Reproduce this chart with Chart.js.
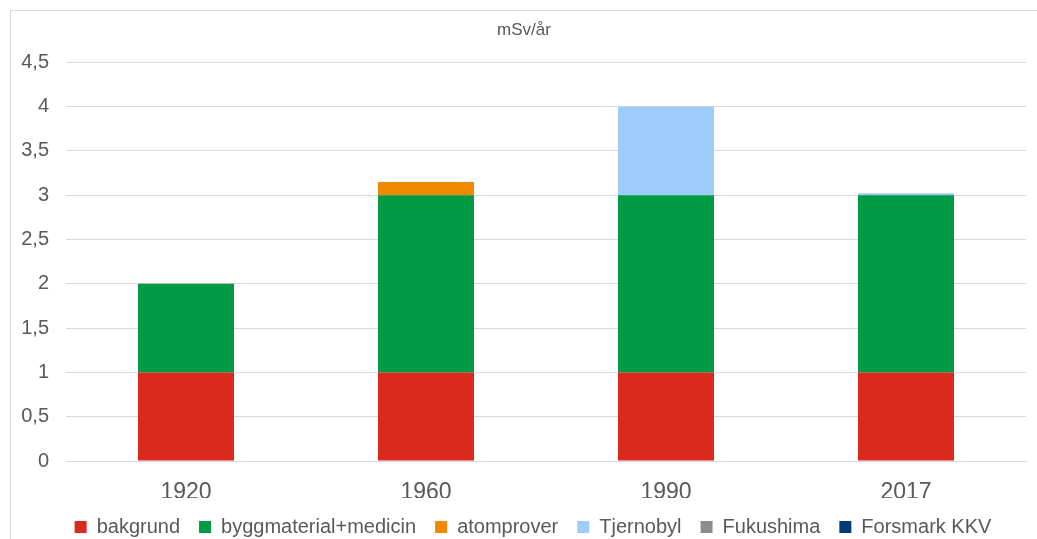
<!DOCTYPE html>
<html>
<head>
<meta charset="utf-8">
<script src="https://cdn.jsdelivr.net/npm/chart.js@4/dist/chart.umd.min.js"></script>
<style>
  html, body { margin: 0; padding: 0; background: #fff; }
  #wrap { position: absolute; left: 0; top: 0; width: 1037px; height: 539px; }
  #frame { position: absolute; left: 10px; top: 10px; width: 1040px; height: 540px;
           border-left: 1px solid #d9d9d9; border-top: 1px solid #d9d9d9; }
</style>
</head>
<body>
<div id="wrap">
  <div id="frame"></div>
  <canvas id="myChart" width="1037" height="539"></canvas>
</div>
<script>
// years on the x axis
const years = ["1920", "1960", "1990", "2017"];

// dose per source, mSv/år
const bakgrund = [1, 1, 1, 1];
const byggmaterial = [1, 2, 2, 2];
const atomprover = [0, 0.15, 0, 0];
const tjernobyl = [0, 0, 1, 0.02];
const fukushima = [0, 0, 0, 0.003];
const forsmark = [0, 0, 0, 0.001];

const yTicks = [0, 0.5, 1, 1.5, 2, 2.5, 3, 3.5, 4, 4.5];

// shrink the legend box so it sits lower, and nudge legend/title right like the original
const legendFit = {
  id: "legendFit",
  beforeInit(chart) {
    const origFit = chart.legend.fit;
    chart.legend.fit = function () {
      origFit.bind(chart.legend)();
      this.height = 41;
    };
  },
  afterLayout(chart) {
    chart.legend.left += 20;
    chart.legend.right += 20;
    chart.titleBlock.left += 11;
    chart.titleBlock.right += 11;
  }
};

const ctx = document.getElementById('myChart');

new Chart(ctx, {
  type: "bar",
  data: {
    labels: years,
    datasets: [
      { label: "bakgrund", data: bakgrund, backgroundColor: "#dc291e" },
      { label: "byggmaterial+medicin", data: byggmaterial, backgroundColor: "#009a44" },
      { label: "atomprover", data: atomprover, backgroundColor: "#ef8a00" },
      { label: "Tjernobyl", data: tjernobyl, backgroundColor: "#9dcbfa" },
      { label: "Fukushima", data: fukushima, backgroundColor: "#8c8c8c" },
      { label: "Forsmark KKV", data: forsmark, backgroundColor: "#003a78" }
    ]
  },
  plugins: [legendFit],
  options: {
    responsive: false,
    animation: false,
    layout: { padding: { left: 0, right: 11, top: 10, bottom: 0 } },
    datasets: { bar: { categoryPercentage: 0.4, barPercentage: 1, borderWidth: 0 } },
    plugins: {
      title: {
        display: true,
        text: "mSv/år",
        color: "#595959",
        font: { family: "Liberation Sans", size: 17, weight: "normal" },
        padding: { top: 10, bottom: 22 }
      },
      legend: {
        position: "bottom",
        labels: {
          boxWidth: 12,
          boxHeight: 12,
          color: "#595959",
          font: { family: "Liberation Sans", size: 20 },
          padding: 19
        }
      },
      tooltip: { enabled: false }
    },
    scales: {
      x: {
        stacked: true,
        grid: { display: false },
        border: { color: "#d9d9d9" },
        afterFit: axis => { axis.height = 37; },
        ticks: { color: "#595959", font: { family: "Liberation Sans", size: 23 }, padding: 10 }
      },
      y: {
        stacked: true,
        min: 0,
        max: 4.5,
        afterBuildTicks: axis => { axis.ticks = yTicks.map(v => ({ value: v })); },
        afterFit: axis => { axis.width = 66; },
        grid: { color: "#d9d9d9", drawTicks: false },
        border: { display: false },
        ticks: {
          color: "#595959",
          font: { family: "Liberation Sans", size: 20 },
          padding: 17,
          callback: v => String(v).replace(".", ",")
        }
      }
    }
  }
});
</script>
</body>
</html>
